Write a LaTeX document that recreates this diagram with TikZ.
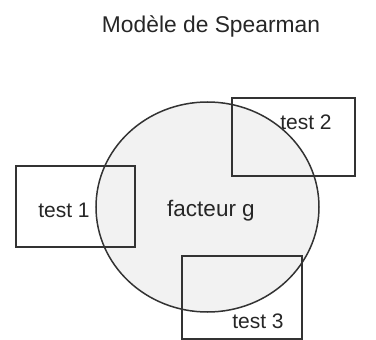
\documentclass[tikz,border=0pt]{standalone}
\usepackage{fontspec}
\setmainfont{Liberation Sans}
\usetikzlibrary{shapes.geometric}
\begin{document}
\begin{tikzpicture}[x=1pt,y=-1pt,
  ink/.style={draw=black!80, line width=1.5pt},
  testbox/.style={ink, rectangle, inner sep=0pt},
  lbl/.style={anchor=base, inner sep=0pt, text=black!85, font=\fontsize{21}{25}\selectfont},
]
\useasboundingbox (0,0) rectangle (376,340);
\node[ink, ellipse, fill=black!5, minimum width=223pt, minimum height=210pt, inner sep=0pt] (g) at (207.5,207) {};
\node[testbox, minimum width=119pt, minimum height=81pt] (b1) at (75.5,206.5) {};
\node[testbox, minimum width=123pt, minimum height=78pt] (b2) at (293.5,137) {};
\node[testbox, minimum width=120pt, minimum height=83pt] (b3) at (242,297.5) {};
\node[lbl, font=\fontsize{22.8}{27}\selectfont] (title) at (211,33) {Modèle de Spearman};
\node[lbl] (t1) at (64,218) {test 1};
\node[lbl] (t2) at (306,129) {test 2};
\node[lbl] (t3) at (258,328) {test 3};
\node[lbl, font=\fontsize{22.5}{27}\selectfont] (tg) at (211,217) {facteur g};
\end{tikzpicture}
\end{document}
